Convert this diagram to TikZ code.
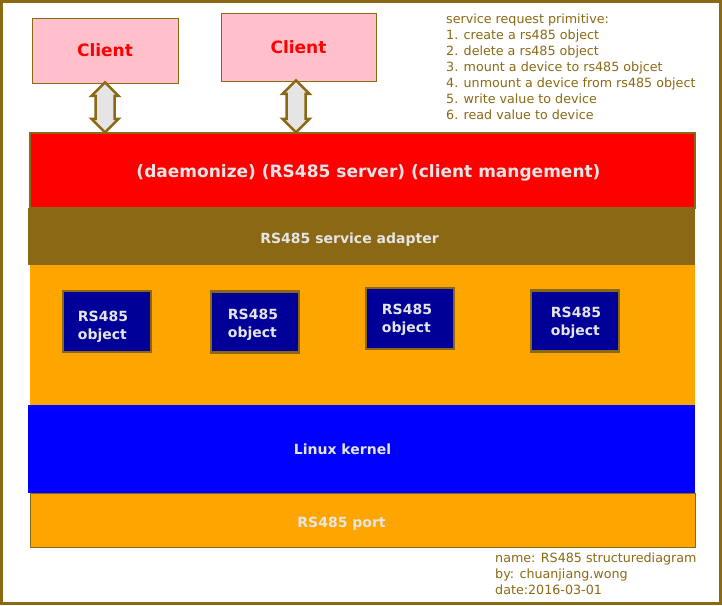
\documentclass[tikz,border=0pt]{standalone}
\usepackage{fontspec}
\setmainfont{DejaVu Sans}
\usetikzlibrary{positioning,shapes.arrows,calc}
\definecolor{frameclr}{RGB}{139,105,20}
\definecolor{clientclr}{RGB}{255,192,203}
\definecolor{objclr}{RGB}{0,0,153}
\definecolor{areaclr}{RGB}{255,165,0}
\definecolor{txtclr}{RGB}{229,229,229}
\tikzset{
    client/.style={rectangle,draw=frameclr,fill=clientclr,minimum width=146pt,minimum height=65pt,text=red,font=\bfseries\fontsize{17}{20}\selectfont},
    layer/.style={rectangle,draw=frameclr,minimum width=665pt,inner sep=0pt},
    laytxt/.style={text=txtclr,font=\bfseries\fontsize{14}{17}\selectfont},
    obj/.style={rectangle,draw=frameclr,line width=2.5pt,fill=objclr,minimum width=88pt,minimum height=61pt},
    objtxt/.style={align=left,text=txtclr,font=\bfseries\fontsize{14}{18}\selectfont},
    link/.style={double arrow,draw=frameclr,line width=2.5pt,fill=black!10,rotate=90,inner xsep=0pt,inner ysep=8.25pt,text height=0pt,text depth=0pt,double arrow head extend=4pt},
    note/.style={anchor=north west,align=left,inner sep=0pt,text=frameclr,font=\fontsize{12.7}{16}\selectfont},
}
\begin{document}
\begin{tikzpicture}[x=1pt,y=-1pt]
\useasboundingbox (0,0) rectangle (722,605);
\draw[frameclr,line width=3pt] (1.5,1.5) rectangle (720.5,603.5);

% clients
\node[client] (c1) at (105,50.5) {Client};
\node[client,minimum width=155pt,minimum height=68pt] (c2) at (298.5,47) {Client};

% layers
\node[layer,fill=red,line width=2.5pt,minimum height=75pt,
      label={[laytxt,font=\bfseries\fontsize{17}{20}\selectfont,shift={(6pt,-2.5pt)}]center:(daemonize) (RS485 server) (client mangement)}] (srv) at (362.5,170.5) {};
\node[layer,fill=frameclr,draw=none,minimum width=667pt,minimum height=57pt,
      label={[laytxt,shift={(-12pt,-3pt)}]center:RS485 service adapter}] (adp) at (361.5,236.5) {};
\node[layer,fill=areaclr,draw=none,minimum height=140pt] (area) at (362.5,335) {};
\node[layer,fill=blue,draw=none,minimum width=667pt,minimum height=88pt,
      label={[laytxt,xshift=-19pt]center:Linux kernel}] (kern) at (361.5,449) {};
\node[layer,fill=areaclr,minimum height=54pt,
      label={[laytxt,shift={(-21pt,-4pt)}]center:RS485 port}] (port) at (362.5,520) {};

% rs485 objects
\node[obj,label={[objtxt,shift={(-4pt,-5.5pt)}]center:RS485\\object}] (o1) at (107,321.5) {};
\node[obj,label={[objtxt,shift={(-2pt,-3pt)}]center:RS485\\object}] (o2) at (255,322) {};
\node[obj,label={[objtxt,shift={(-3pt,-1.5pt)}]center:RS485\\object}] (o3) at (410,318.5) {};
\node[obj,label={[objtxt,shift={(1pt,-2pt)}]center:RS485\\object}] (o4) at (575,321) {};

% client links
\node[link,minimum height=50pt] (a1) at ($(c1.south)!0.5!(c1.south |- srv.north)$) {};
\node[link,minimum height=52pt] (a2) at ($(c2.south)!0.5!(c2.south |- srv.north)+(-2.5,0)$) {};

% notes
\node[note] (prim) at (446,13.5) {service request primitive:\\1. create a rs485 object\\2. delete a rs485 object\\3. mount a device to rs485 objcet\\4. unmount a device from rs485 object\\5. write value to device\\6. read value to device};
\node[note] (info) at (495,552.5) {name: RS485 structurediagram\\by: chuanjiang.wong\\date:2016-03-01};
\end{tikzpicture}
\end{document}
